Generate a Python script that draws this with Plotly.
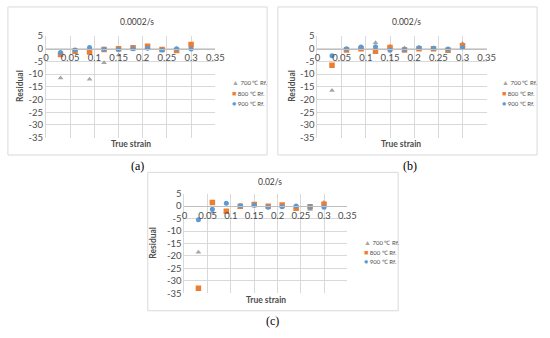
import plotly.graph_objects as go

W, H = 550, 338

# ---- data ----
strain = [0.03, 0.06, 0.09, 0.12, 0.15, 0.18, 0.21, 0.24, 0.27, 0.30]
series_names = ["700 ℃ Rf.", "800 ℃ Rf.", "900 ℃ Rf."]
panel_titles = ["0.0002/s", "0.002/s", "0.02/s"]
panel_labels = ["(a)", "(b)", "(c)"]

a_700 = [-11.5, -0.5, -12.0, -5.5, -2.5, 0.3, 0.5, -0.3, -1.2, 1.0]
a_800 = [-2.3, -1.0, -1.3, -0.3, 0.0, 0.4, 1.0, -0.3, -0.7, 1.6]
a_900 = [-1.5, -0.5, 0.5, -0.2, -0.3, 0.0, 0.2, -0.5, 0.0, -0.1]

b_700 = [-16.5, -0.3, 0.5, 2.3, 1.0, 0.3, 0.3, 0.3, -0.2, 2.0]
b_800 = [-6.5, -0.5, 0.0, -1.0, 0.5, -0.5, 0.0, 0.0, -0.6, 1.2]
b_900 = [-2.8, 0.0, 0.7, 0.8, -0.6, -0.3, 0.4, 0.2, -0.1, 0.4]

c_700 = [-18.5, -2.5, -2.0, -0.5, 0.3, 0.0, 0.3, -0.5, -1.3, 1.5]
c_800 = [-33.0, 1.5, -2.0, 0.0, 0.7, 0.0, 0.5, -0.8, -0.2, 0.8]
c_900 = [-5.5, -1.2, 1.2, 0.2, 0.4, -0.4, -0.2, 0.1, -0.3, -0.4]

x_ticks = [0, 0.05, 0.1, 0.15, 0.2, 0.25, 0.3, 0.35]
y_ticks = [5, 0, -5, -10, -15, -20, -25, -30, -35]
y_tick_text = ["5", "0", "-5", "-10", "-15", "-20", "-25", "-30", "-35"]

panels = [[a_700, a_800, a_900], [b_700, b_800, b_900], [c_700, c_800, c_900]]

# ---- styles ----
colors = ["#a5a5a5", "#ed7d31", "#5b9bd5"]
symbols = ["triangle-up", "square", "circle"]
msizes = [5, 5.5, 5]
glyphs = ["▲", "■", "●"]
grid = "#d9d9d9"
txt = "#4d4d4d"
FONT = "Lato"


def px(x):
    return x / W


def py(y):
    return 1 - y / H


# plot areas in px: (x0, x1, ytop, ybottom)
areas = [(44, 217, 31, 136), (321.5, 494.5, 31, 136), (185.5, 352, 194, 297)]
# frame boxes in px: (x0, x1, ytop, ybottom)
boxes = [(5, 270, 1, 154), (281, 546, 1, 154), (148, 404, 172, 315)]
title_pos = [(137, 17), (412, 17), (273, 182)]
ytitle_pos = [(18, 83), (296, 83), (153, 245)]
xtitle_pos = [(131, 143), (407, 143), (269, 304)]
label_pos = [(137, 165), (416, 165), (275, 326)]
legend_pos = [(232, [79, 89.5, 100]), (508, [79, 89.5, 100]), (367, [244, 254, 263.5])]


def ann(text, x, y, font, xanchor="center", **kw):
    return dict(text=text, x=px(x), y=py(y), xref="paper", yref="paper",
                showarrow=False, xanchor=xanchor, yanchor="middle",
                font=font, **kw)


fig = go.Figure()
layout = dict(width=W, height=H, margin=dict(l=0, r=0, t=0, b=0),
              paper_bgcolor="white", plot_bgcolor="white",
              showlegend=False, shapes=[], annotations=[])

ymin, ymax = -35, 5
for i, data in enumerate(panels):
    xa = "x" if i == 0 else f"x{i+1}"
    ya = "y" if i == 0 else f"y{i+1}"
    for s in range(3):
        fig.add_trace(go.Scatter(
            x=strain, y=data[s], mode="markers", name=series_names[s],
            xaxis=xa, yaxis=ya,
            marker=dict(symbol=symbols[s], size=msizes[s], color=colors[s],
                        line=dict(width=0))))
    x0, x1, yt, yb = areas[i]
    d_y0, d_y1 = py(yb), py(yt)
    pos0 = d_y0 + (0 - ymin) / (ymax - ymin) * (d_y1 - d_y0)
    layout["xaxis" if i == 0 else f"xaxis{i+1}"] = dict(
        domain=[px(x0), px(x1)], range=[0, 0.35], anchor="free", position=pos0,
        tickvals=x_ticks, showgrid=True, gridcolor=grid, gridwidth=1,
        showline=True, linecolor="#bfbfbf", linewidth=1, zeroline=False,
        ticks="", tickfont=dict(family=FONT, size=9.5, color=txt))
    layout["yaxis" if i == 0 else f"yaxis{i+1}"] = dict(
        domain=[d_y0, d_y1], range=[ymin, ymax], anchor=xa,
        tickvals=y_ticks, ticktext=y_tick_text, showgrid=True, gridcolor=grid,
        gridwidth=1, zeroline=False, showline=True, linecolor=grid, linewidth=1,
        ticks="", ticklen=0, tickfont=dict(family=FONT, size=9.5, color=txt))

    bx0, bx1, byt, byb = boxes[i]
    layout["shapes"].append(dict(type="rect", xref="paper", yref="paper",
                                 x0=px(bx0), x1=px(bx1), y0=py(byb), y1=py(byt),
                                 line=dict(color=grid, width=1)))
    tx, ty = title_pos[i]
    layout["annotations"].append(ann(panel_titles[i], tx, ty,
                                     dict(family=FONT, size=8.5, color="#404040")))
    rx, ry = ytitle_pos[i]
    layout["annotations"].append(ann("<b>Residual</b>", rx, ry,
                                     dict(family=FONT, size=8.5, color=txt),
                                     textangle=-90))
    sx, sy = xtitle_pos[i]
    layout["annotations"].append(ann("<b>True strain</b>", sx, sy,
                                     dict(family=FONT, size=8.5, color=txt)))
    lx, ly = label_pos[i]
    layout["annotations"].append(ann(panel_labels[i], lx, ly,
                                     dict(family="Liberation Serif", size=12,
                                          color="black")))
    gx, gys = legend_pos[i]
    for s in range(3):
        layout["annotations"].append(ann(
            f'<span style="color:{colors[s]};font-size:7px">{glyphs[s]}</span> {series_names[s]}',
            gx, gys[s], dict(family=FONT, size=6, color=txt), xanchor="left"))

fig.update_layout(**layout)
fig.write_html("out.html", config={"displayModeBar": False},
               post_script="document.body.style.margin='0';document.body.style.padding='0';")
